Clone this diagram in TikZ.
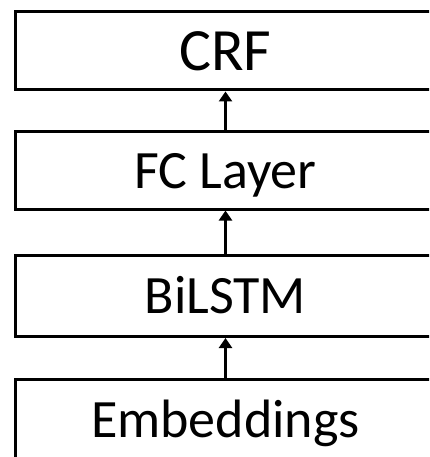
\documentclass[tikz,border=0pt]{standalone}
\usepackage{fontspec}
\setmainfont{Carlito}
\usetikzlibrary{arrows.meta}
\tikzset{layer/.style={draw=black,line width=3pt,minimum width=421pt,inner sep=0pt,
  text height=35pt,text depth=0pt,font=\fontsize{54}{60}\selectfont},
arr/.style={-{Triangle[length=10pt,width=13pt]},line width=2.6pt,black}}
\begin{document}
\begin{tikzpicture}[x=1pt,y=-1pt]
\useasboundingbox (0,0) rectangle (429,457);
\clip (0,0) rectangle (429,457);
\node[layer,minimum height=78pt,text height=39pt,font=\fontsize{60}{66}\selectfont] (crf) at (225.5,51) {CRF};
\node[layer,minimum height=77pt] (fc) at (225.5,170.5) {FC Layer};
\node[layer,minimum height=81pt] (bilstm) at (225.5,296) {BiLSTM};
\node[layer,minimum height=81pt] (emb) at (225.5,420) {Embeddings};
\draw[arr] (fc.north) -- (crf.south);
\draw[arr] (bilstm.north) -- (fc.south);
\draw[arr] (emb.north) -- (bilstm.south);
\end{tikzpicture}
\end{document}
